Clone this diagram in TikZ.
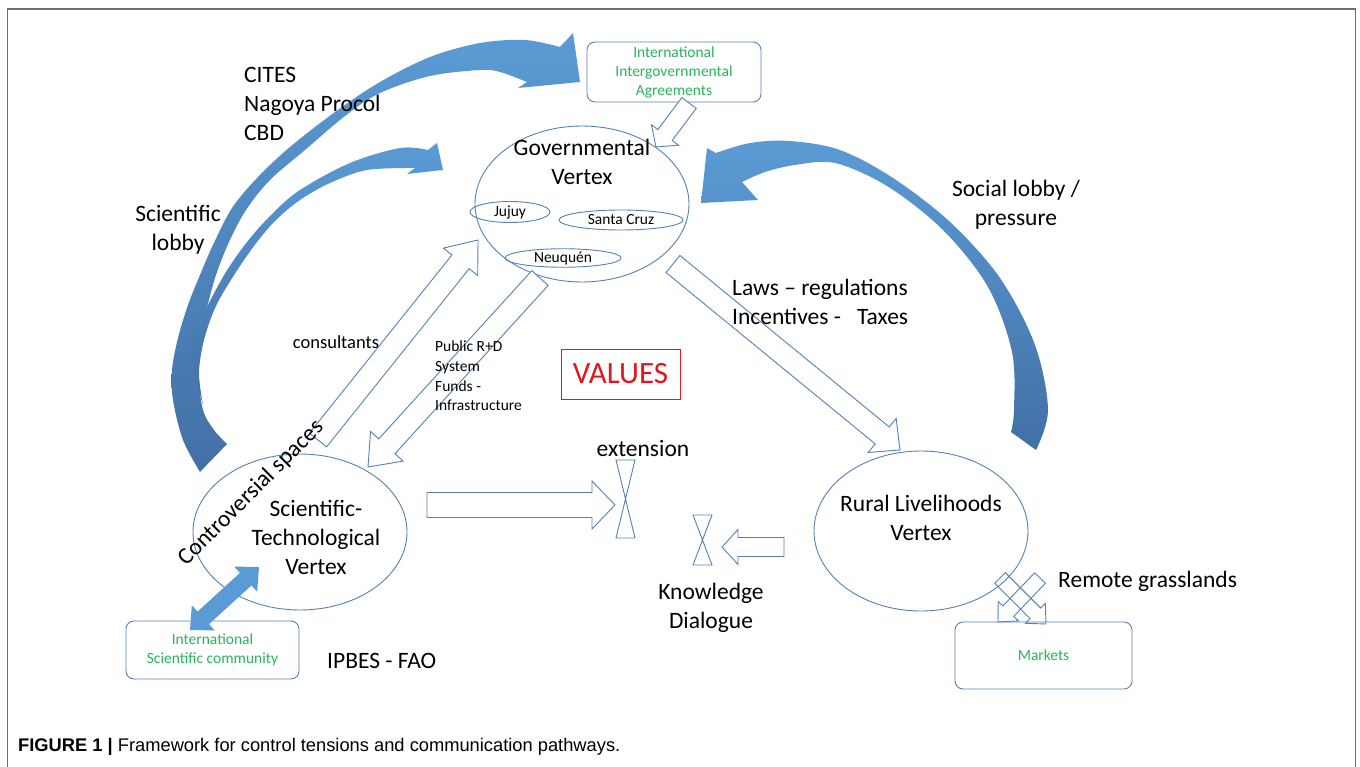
\documentclass[tikz,border=0pt]{standalone}
\usepackage{fontspec}
\setmainfont{Carlito}
\newfontfamily\capfont{Liberation Sans}
\usetikzlibrary{calc,shapes.geometric}

\definecolor{edgeblue}{RGB}{84,128,182}
\definecolor{lightblue}{RGB}{91,155,213}
\definecolor{darkblue}{RGB}{66,112,165}
\definecolor{boxgreen}{RGB}{40,180,90}
\definecolor{valuered}{RGB}{230,20,30}
\definecolor{framegray}{RGB}{110,110,110}

\newcommand{\fsz}[2]{\fontsize{#1}{#2}\selectfont}
% hollow block arrow: [style]{from}{to}{shaft half width}{head half width}{head length}
\newcommand{\blockarrow}[6][hollow]{%
  \coordinate (ba) at ($(#3)!#6!(#2)$);
  \draw[#1] ($(#2)!#4!90:(#3)$) -- ($(ba)!#4!90:(#3)$) -- ($(ba)!#5!90:(#3)$) -- (#3)
    -- ($(ba)!#5!-90:(#3)$) -- ($(ba)!#4!-90:(#3)$) -- ($(#2)!#4!-90:(#3)$) -- cycle;}

\tikzset{
  hollow/.style={draw=edgeblue, fill=white, line width=0.9pt},
  outline/.style={draw=edgeblue, line width=0.9pt},
  vertex/.style={ellipse, draw=edgeblue, line width=0.9pt, inner sep=0pt},
  place/.style={ellipse, draw=edgeblue, line width=0.9pt, inner sep=0pt, font=\fsz{15.5}{18}},
  gbox/.style={draw=edgeblue, rounded corners=8pt, line width=0.9pt, text=boxgreen,
    align=center, font=\fsz{15.5}{19}, inner sep=0pt},
  lbl/.style={align=center, font=\fsz{23.5}{29}, inner sep=0pt},
  small/.style={align=left, font=\fsz{15.5}{19.6}, inner sep=0pt},
  lobby/.style={top color=lightblue, bottom color=darkblue, draw=none},
}

\begin{document}
\begin{tikzpicture}[x=1pt, y=-1pt]
\useasboundingbox (0,0) rectangle (1360,767);
\draw[framegray, line width=1.6pt] (7.5,767) -- (7.5,9) -- (1355.5,9) -- (1355.5,767);

% the three vertices
\node[vertex, minimum width=214pt, minimum height=156pt] (gov) at (582,204) {};
\node[vertex, minimum width=214pt, minimum height=156pt] (sci) at (300,532) {};
\node[vertex, minimum width=214pt, minimum height=160pt] (rural) at (921,531) {};
\node[place, minimum width=80pt, minimum height=21pt] (jujuy) at (510,212) {Jujuy};
\node[place, minimum width=124pt, minimum height=20pt] (santacruz) at (621,220) {Santa Cruz};
\node[place, minimum width=116pt, minimum height=18pt] (neuquen) at (563,258) {Neuquén};

% boxes
\node[gbox, minimum width=174pt, minimum height=60pt] (agree) at (674,72) {International\\Intergovernmental\\Agreements};
\node[gbox, minimum width=173pt, minimum height=58pt] (intsci) at (212.5,650) {International\\Scientific community};
\node[gbox, minimum width=177pt, minimum height=67pt] (markets) at (1043.5,655.5) {Markets};
\node[draw=valuered, text=valuered, line width=0.9pt, minimum width=119pt, minimum height=50pt,
  inner sep=0pt, font=\fsz{31}{36}] (values) at (620.5,374) {VALUES};

% bow ties
\draw[outline] (616,460) -- (635,460) -- (616,538) -- (635,538) -- cycle;
\draw[outline] (693,515) -- (712,515) -- (693,565) -- (712,565) -- cycle;

% ends of the straight arrows
\coordinate (agree-out) at (689,103);
\coordinate (gov-in) at (656,147);
\coordinate (cons-s) at (318,440);
\coordinate (cons-e) at (478,240);
\coordinate (rd-s) at (540,278);
\coordinate (rd-e) at (368,467);
\coordinate (laws-s) at (673,264);
\coordinate (laws-e) at (900,450);
\coordinate (ext-s) at (427,505);
\coordinate (ext-e) at (615,505);
\coordinate (kd-s) at (784,547);
\coordinate (kd-e) at (722,547);
\coordinate (isc-s) at (190,630);
\coordinate (isc-e) at (259,567);
\coordinate (mk1-s) at (1000,578);
\coordinate (mk1-e) at (1046,624);
\coordinate (mk2-s) at (1040,578);
\coordinate (mk2-e) at (998,622);

\foreach \s/\e/\w/\W/\L in {agree-out/gov-in/9pt/17pt/15pt, cons-s/cons-e/11pt/22pt/28pt,
    rd-s/rd-e/11pt/22pt/28pt, laws-s/laws-e/11pt/22pt/23pt, ext-s/ext-e/12.5pt/24pt/23pt,
    kd-s/kd-e/9.5pt/17.5pt/16pt} {
  \blockarrow{\s}{\e}{\w}{\W}{\L}
}
\foreach \s/\e in {mk1-s/mk1-e, mk2-s/mk2-e} {
  \blockarrow[outline]{\s}{\e}{7.5pt}{14pt}{15pt}
}

% double arrow to the scientific community
\coordinate (ha) at ($(isc-e)!18pt!(isc-s)$);
\coordinate (hb) at ($(isc-s)!18pt!(isc-e)$);
\fill[lightblue] (isc-s) -- ($(hb)!17pt!90:(isc-e)$) -- ($(hb)!8.5pt!90:(isc-e)$) -- ($(ha)!8.5pt!90:(isc-e)$)
  -- ($(ha)!17pt!90:(isc-e)$) -- (isc-e) -- ($(ha)!17pt!-90:(isc-e)$) -- ($(ha)!8.5pt!-90:(isc-e)$)
  -- ($(hb)!8.5pt!-90:(isc-e)$) -- ($(hb)!17pt!-90:(isc-e)$) -- cycle;

% lobby arrows
\shade[lobby] plot[smooth, tension=0.55] coordinates {(200,472) (183,440) (173,400) (172,370) (178,338)
    (188,305) (200,275) (213,245) (232,208) (258,177) (290,147) (335,112) (380,82) (430,57) (480,43) (525,40) (560,47)}
  -- (573,33) -- (580,82) -- (518,88) -- (527,82)
  -- plot[smooth, tension=0.55] coordinates {(527,82) (500,72) (480,70) (430,76) (380,93) (345,116) (305,150)
    (270,180) (246,210) (229,242) (216,275) (207,308) (200,340) (198,373) (203,410) (214,430) (227,444)} -- cycle;
\shade[lobby] plot[smooth, tension=0.55] coordinates {(190,360) (197,330) (208,305) (226,272) (247,242)
    (272,214) (300,190) (350,163) (400,148) (428,150)}
  -- (437,143) -- (443,170) -- (407,174) -- (415,168)
  -- plot[smooth, tension=0.55] coordinates {(415,168) (367,170) (330,183) (300,200) (276,220) (257,242)
    (236,272) (216,306) (204,340) (199,373) (203,405)} -- cycle;
\shade[lobby] plot[smooth, tension=0.55] coordinates {(716,153) (750,143) (790,141) (840,150) (893,178)
    (950,222) (1000,278) (1035,345) (1048,410) (1036,450)}
  -- (1011,432)
  -- plot[smooth, tension=0.55] coordinates {(1011,432) (1014,410) (1012,352) (988,287) (943,230) (887,186)
    (835,163) (795,165) (765,172) (742,182)}
  -- (758,200) -- (701,203) -- (707,148) -- cycle;

% texts
\node[lbl] (govtext) at (582,162) {Governmental\\Vertex};
\node[lbl] (scitext) at (316,537) {Scientific-\\Technological\\Vertex};
\node[lbl] (ruraltext) at (921,518) {Rural Livelihoods\\Vertex};
\node[lbl, anchor=west, align=left] (cites) at (244,104) {CITES\\Nagoya Procol\\CBD};
\node[lbl] (scilobby) at (178,230) {Scientific\\lobby};
\node[lbl] (soclobby) at (1016,205) {Social lobby /\\pressure};
\node[lbl, anchor=west, align=left] (laws) at (732,302) {Laws – regulations\\Incentives -\ \ \ Taxes};
\node[lbl, font=\fsz{18.5}{22}] (consult) at (336,342) {consultants};
\node[small, anchor=west] (publicrd) at (435,376) {Public R+D\\System\\Funds -\\Infrastructure};
\node[lbl, rotate=45] (contro) at (251,493) {Controversial spaces};
\node[lbl] (extension) at (643,449) {extension};
\node[lbl] (knowledge) at (711,608) {Knowledge\\Dialogue};
\node[lbl, anchor=west] (remote) at (1058,581) {Remote grasslands};
\node[lbl, anchor=west] (ipbes) at (327,661) {IPBES - FAO};

% caption
\node[anchor=base west, inner sep=0pt, font=\capfont\fsz{18.3}{20}] (caption) at (18,751)
  {\textbf{FIGURE 1 |} Framework for control tensions and communication pathways.};
\end{tikzpicture}
\end{document}
